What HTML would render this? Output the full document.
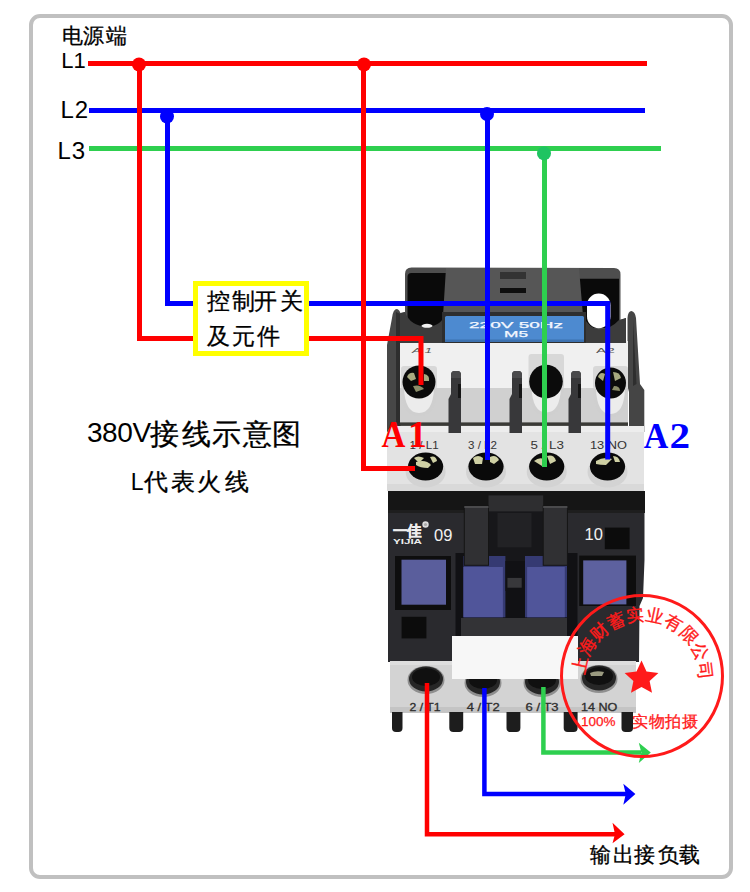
<!DOCTYPE html>
<html><head><meta charset="utf-8">
<style>
html,body{margin:0;padding:0;background:#fff;width:750px;height:892px;overflow:hidden}
svg{display:block}
text{font-family:"Liberation Sans",sans-serif}
</style></head>
<body>
<svg width="750" height="892" viewBox="0 0 750 892">
<rect x="0" y="0" width="750" height="892" fill="#fff"/>
<rect x="31" y="16" width="700" height="861" rx="9" ry="9" fill="none" stroke="#c0c0c0" stroke-width="4"/>
<path d="M392 318 Q393 309 397 309 Q400 310 400.5 314 L400.5 432 L387 432 L387 345 Z" fill="#474747"/>
<path d="M627.5 318 Q628 311 631.5 311 Q635 311.5 636 318 L640 384 L644.3 390 L644.3 432 L629 432 L629 392 L627.5 386 Z" fill="#454545"/>
<path d="M633 320 L636.5 384 L633 386Z" fill="#2e2e2e"/>
<path d="M396 312 L400.5 314 L400.5 432 L396 432Z" fill="#2e2e2e"/>
<rect x="400" y="341" width="228" height="48" fill="#f0f0f0"/>
<rect x="400" y="388" width="228" height="35" fill="#d0d0d0"/>
<rect x="400" y="422.4" width="228" height="3.5" fill="#3a3a36"/>
<path d="M405 274 Q405 267.5 411.5 267.5 L614 268 Q620.5 268 620.5 274.5 L620.5 320 L626 318 L626 343 L400 343 L400 313 L405 312 Z" fill="#4e4e4e"/>
<path d="M407.5 277 Q407.5 273 411.5 273 L448 273 L447 328 L407.5 328 Z" fill="#0a0a0a"/>
<path d="M577 278.7 L619 278.7 L619 328 L584 328 Z" fill="#0a0a0a"/>
<rect x="587" y="293.6" width="23.5" height="34.7" rx="11.7" fill="#ffffff"/>
<path d="M446 268 L579 268 L583 316 L443 316 Z" fill="#565656"/>
<rect x="500" y="272" width="26" height="7" fill="#333"/>
<rect x="500" y="288" width="26" height="5" fill="#0e0e0e"/>
<path d="M400 313.5 L405 312 Q410 326 427 326.5 Q443 326 445 312 L447 312 L447 343 L400 343 Z" fill="#3c3c3c"/>
<ellipse cx="427" cy="325.8" rx="5.5" ry="2" fill="#f2f2f2"/>
<path d="M583 316 Q590 329 599 329.5 Q611 329 619 320 L626 318 L626 343 L583 343 Z" fill="#3c3c3c"/>
<rect x="442" y="312" width="144" height="31" fill="#2e2e2e"/>
<rect x="445" y="316" width="139" height="26" rx="1.5" fill="#4d8ad0"/>
<rect x="445" y="339.5" width="139" height="2.5" fill="#3d72b0"/>
<text x="469" y="328" font-size="9.6" fill="#f4f8ff" textLength="94" lengthAdjust="spacingAndGlyphs" stroke="#f4f8ff" stroke-width="0.25">220V 50Hz</text>
<text x="504" y="337.3" font-size="9.6" fill="#f4f8ff" textLength="24" lengthAdjust="spacingAndGlyphs" stroke="#f4f8ff" stroke-width="0.25">M5</text>
<text x="412" y="353" font-size="8" fill="#555" textLength="20" lengthAdjust="spacingAndGlyphs" font-style="italic">A 1</text>
<text x="596" y="353" font-size="8" fill="#555" textLength="19" lengthAdjust="spacingAndGlyphs">A2</text>
<rect x="401" y="366" width="36" height="23" rx="3" fill="#d8d8d8"/>
<path d="M401 389 L401 386 Q401 416 419.0 416 Q437 416 437 386 L437 389Z" fill="#cfcfcf"/>
<path d="M404 388 Q405 413 419.0 413 Q433 413 434 388Z" fill="#ececec"/>
<circle cx="419" cy="382" r="16.5" fill="#0b0b0b"/>
<rect x="593" y="366" width="35" height="23" rx="3" fill="#d8d8d8"/>
<path d="M593 389 L593 387 Q593 417 610.5 417 Q628 417 628 387 L628 389Z" fill="#cfcfcf"/>
<path d="M596 389 Q597 414 610.5 414 Q624 414 625 389Z" fill="#ececec"/>
<circle cx="610.5" cy="383" r="15.5" fill="#0b0b0b"/>
<rect x="528.5" y="354" width="35.5" height="35" rx="3" fill="#d8d8d8"/>
<path d="M528.5 389 L528.5 385.6 Q528.5 415.6 546.25 415.6 Q564.0 415.6 564.0 385.6 L564.0 389Z" fill="#cfcfcf"/>
<path d="M531.5 387.6 Q532.5 412.6 546.25 412.6 Q560.0 412.6 561.0 387.6Z" fill="#ececec"/>
<circle cx="546" cy="381.6" r="16.8" fill="#0b0b0b"/>
<path d="M407 377 Q409 372 414 373 L416 379 L411 381Z" fill="#a8aa80"/>
<path d="M424 374 Q430 375 429 381 L424 381Z" fill="#a8aa80"/>
<path d="M413 386 Q420 384 424 389 L416 392Z" fill="#8c8e6a"/>
<path d="M598 377 Q600 371 605 374 L603 381Z" fill="#a8aa80"/>
<path d="M613 372 Q620 372 621 378 L615 381Z" fill="#a8aa80"/>
<path d="M614 386 Q620 386 620 391 L612 390Z" fill="#8c8e6a"/>
<path d="M387 436 Q387 426 396 426 L644 426 L644 491 L387 491Z" fill="#e3e3e3"/>
<rect x="398" y="426" width="246" height="6" fill="#ededed"/>
<rect x="387" y="484" width="257" height="7" fill="#d9d9d9"/>
<path d="M451.0 375 Q451.0 371 454.5 371 L457.5 371 Q461.0 371 461.0 375 L461.0 433 L448.5 433 L448.5 399 L451.0 394Z" fill="#38383a"/>
<path d="M451.0 375 Q451.0 371 454.5 371 L457.5 371 Q461.0 371 461.0 375 L461.0 378 L451.0 378Z" fill="#4a4a4c"/>
<rect x="458.0" y="384" width="3" height="14" fill="#151515"/>
<path d="M512.0 375 Q512.0 371 515.5 371 L518.5 371 Q522.0 371 522.0 375 L522.0 433 L509.5 433 L509.5 399 L512.0 394Z" fill="#38383a"/>
<path d="M512.0 375 Q512.0 371 515.5 371 L518.5 371 Q522.0 371 522.0 375 L522.0 378 L512.0 378Z" fill="#4a4a4c"/>
<rect x="519.0" y="384" width="3" height="14" fill="#151515"/>
<path d="M571.0 375 Q571.0 371 574.5 371 L577.5 371 Q581.0 371 581.0 375 L581.0 433 L568.5 433 L568.5 399 L571.0 394Z" fill="#38383a"/>
<path d="M571.0 375 Q571.0 371 574.5 371 L577.5 371 Q581.0 371 581.0 375 L581.0 378 L571.0 378Z" fill="#4a4a4c"/>
<rect x="578.0" y="384" width="3" height="14" fill="#151515"/>
<text x="409.6" y="448.8" font-size="11.8" fill="#333" textLength="29" lengthAdjust="spacingAndGlyphs">1 / L1</text>
<text x="468" y="448.8" font-size="11.8" fill="#333" textLength="29" lengthAdjust="spacingAndGlyphs">3 / L2</text>
<text x="530.5" y="448.8" font-size="11.8" fill="#333" textLength="33.5" lengthAdjust="spacingAndGlyphs">5 / L3</text>
<text x="590" y="448.8" font-size="11.8" fill="#333" textLength="37" lengthAdjust="spacingAndGlyphs">13 NO</text>
<ellipse cx="425.6" cy="472" rx="20" ry="15.5" fill="#d3d3d3"/>
<ellipse cx="425.6" cy="466.6" rx="17.6" ry="14" fill="#0a0a0a"/>
<ellipse cx="486" cy="472" rx="20" ry="15.5" fill="#d3d3d3"/>
<ellipse cx="486" cy="466.6" rx="17.6" ry="14" fill="#0a0a0a"/>
<ellipse cx="546.7" cy="472" rx="20" ry="15.5" fill="#d3d3d3"/>
<ellipse cx="546.7" cy="466.6" rx="17.6" ry="14" fill="#0a0a0a"/>
<ellipse cx="607.5" cy="472" rx="20" ry="15.5" fill="#d3d3d3"/>
<ellipse cx="607.5" cy="466.6" rx="17.6" ry="14" fill="#0a0a0a"/>
<path d="M414 458 Q418 455 424 458 L419 463Z" fill="#cfd0a4"/>
<path d="M416 462 Q426 459 431 465 L428 468 Q420 468 416 465Z" fill="#cfd0a4"/>
<path d="M430 457 Q436 455 437 461 L433 463Z" fill="#cfd0a4"/>
<path d="M473 458 Q478 454 483 458 L482 464 L475 464Z" fill="#cfd0a4"/>
<path d="M490 457 Q496 454 499 460 L494 464 L490 462Z" fill="#cfd0a4"/>
<path d="M534 461 Q540 456 546 460 L542 466Z" fill="#cfd0a4"/>
<path d="M547 456 Q554 454 556 461 L550 464Z" fill="#cfd0a4"/>
<path d="M596 461 Q604 456 612 459 L606 465 Q600 465 596 464Z" fill="#cfd0a4"/>
<path d="M613 456 Q619 456 620 462 L615 462Z" fill="#cfd0a4"/>
<path d="M388 491H644.5V560L643 598L639.5 606L639 662H388Z" fill="#2a2a2e"/>
<rect x="388" y="491" width="257" height="22" fill="#151515"/>
<rect x="388" y="510" width="257" height="3" fill="#1e1e1e"/>
<text x="392.5" y="536" font-size="15" fill="#eeeeee" stroke="#eeeeee" stroke-width="0.4" font-weight="bold" textLength="29" lengthAdjust="spacingAndGlyphs">一佳</text>
<text x="393" y="543.5" font-size="7" fill="#eeeeee" font-weight="bold" textLength="29" lengthAdjust="spacingAndGlyphs">YIJIA</text>
<circle cx="425.5" cy="524.5" r="3.2" fill="#dddddd"/><circle cx="425.5" cy="524.5" r="1.6" fill="#aaaaaa"/>
<text x="434" y="541" font-size="16.5" fill="#f2f2f2">09</text>
<text x="584.6" y="539.6" font-size="16.5" fill="#f2f2f2">10</text>
<rect x="604.8" y="527.6" width="24.8" height="21.6" fill="#0c0c0c"/>
<rect x="395" y="556" width="56" height="54" fill="#0e0e0e"/>
<rect x="401.5" y="559.7" width="44.5" height="45" fill="#5a5e9c"/>
<rect x="579.2" y="555.6" width="56.8" height="50.4" fill="#0e0e0e"/>
<rect x="583.2" y="560.4" width="43.2" height="44" fill="#5d619f"/>
<rect x="401.6" y="616.8" width="24.8" height="21.6" fill="#0c0c0c"/>
<rect x="455.5" y="553" width="122" height="84" fill="#111114"/>
<rect x="488.5" y="511" width="54.7" height="50" fill="#17171a"/>
<rect x="488.5" y="495.4" width="54.7" height="16" fill="#2e2e30"/>
<rect x="497.5" y="513" width="34" height="34.4" fill="#222225"/>
<rect x="463.4" y="556" width="42" height="61.3" fill="#353a72"/>
<rect x="463.4" y="567" width="39.5" height="50.3" fill="#50559a"/>
<rect x="525" y="556" width="42" height="61.3" fill="#353a72"/>
<rect x="527.1" y="567" width="37.7" height="50.3" fill="#50559a"/>
<rect x="505.4" y="561" width="19.6" height="30" fill="#111114"/>
<rect x="507.4" y="577.9" width="14.3" height="9.8" fill="#38383b"/>
<rect x="464.3" y="506" width="24.2" height="59.3" fill="#303033" stroke="#151515" stroke-width="1"/>
<rect x="543.2" y="506" width="24.2" height="59.3" fill="#303033" stroke="#151515" stroke-width="1"/>
<rect x="464.3" y="506" width="24.2" height="2" fill="#4a4a4c"/>
<rect x="543.2" y="506" width="24.2" height="2" fill="#4a4a4c"/>
<rect x="461" y="618" width="106" height="19" fill="#333336"/>
<rect x="390" y="661" width="246" height="52" fill="#d3d3d3"/>
<rect x="390" y="661" width="246" height="4" fill="#dedede"/>
<rect x="390" y="707" width="246" height="6" fill="#c4c4c4"/>
<ellipse cx="426" cy="680" rx="18.5" ry="14" fill="#8f8f8f"/>
<ellipse cx="426" cy="679" rx="17" ry="12.5" fill="#262626"/>
<ellipse cx="426" cy="677" rx="14" ry="9" fill="#101010"/>
<ellipse cx="483" cy="683" rx="18.5" ry="14" fill="#8f8f8f"/>
<ellipse cx="483" cy="682" rx="17" ry="12.5" fill="#262626"/>
<ellipse cx="483" cy="680" rx="14" ry="9" fill="#101010"/>
<ellipse cx="542" cy="683" rx="18.5" ry="14" fill="#8f8f8f"/>
<ellipse cx="542" cy="682" rx="17" ry="12.5" fill="#262626"/>
<ellipse cx="542" cy="680" rx="14" ry="9" fill="#101010"/>
<ellipse cx="599" cy="679" rx="18.5" ry="14" fill="#8f8f8f"/>
<ellipse cx="599" cy="678" rx="17" ry="12.5" fill="#262626"/>
<ellipse cx="599" cy="676" rx="14" ry="9" fill="#101010"/>
<path d="M590 673 Q596 670 604 672 L602 676 L591 676Z" fill="#9a9a80"/>
<rect x="452" y="636" width="126" height="43" fill="#f7f7f7"/>
<text x="409.5" y="711" font-size="11" fill="#2e2e2e" stroke="#2e2e2e" stroke-width="0.3" textLength="31" lengthAdjust="spacingAndGlyphs">2 / T1</text>
<text x="466.7" y="711" font-size="11" fill="#2e2e2e" stroke="#2e2e2e" stroke-width="0.3" textLength="33" lengthAdjust="spacingAndGlyphs">4 / T2</text>
<text x="525.6" y="711" font-size="11" fill="#2e2e2e" stroke="#2e2e2e" stroke-width="0.3" textLength="33" lengthAdjust="spacingAndGlyphs">6 / T3</text>
<text x="581" y="711" font-size="11" fill="#2e2e2e" stroke="#2e2e2e" stroke-width="0.3" textLength="36.4" lengthAdjust="spacingAndGlyphs">14 NO</text>
<path d="M392 712 L402.5 712 L402.5 728 Q402.5 732 398.5 732 L396 732 Q392 732 392 728Z" fill="#1d1d1d"/>
<path d="M449.3 712 L463.2 712 L463.2 728 Q463.2 732 459.2 732 L453.3 732 Q449.3 732 449.3 728Z" fill="#1d1d1d"/>
<path d="M506.5 712 L520.4 712 L520.4 728 Q520.4 732 516.4 732 L510.5 732 Q506.5 732 506.5 728Z" fill="#1d1d1d"/>
<path d="M563.7 712 L577.6 712 L577.6 728 Q577.6 732 573.6 732 L567.7 732 Q563.7 732 563.7 728Z" fill="#1d1d1d"/>
<path d="M621.5 712 L633 712 L633 728 Q633 732 629 732 L625.5 732 Q621.5 732 621.5 728Z" fill="#1d1d1d"/>
<g fill="none">
<path d="M88 63.5H647" stroke="#ff0000" stroke-width="5"/>
<path d="M89 110.5H645" stroke="#0000ff" stroke-width="5"/>
<path d="M89 148.5H661" stroke="#2ecf4f" stroke-width="5"/>
<path d="M139.5 64V338.5H195" stroke="#ff0000" stroke-width="5"/>
<path d="M167.5 112V303.5H195" stroke="#0000ff" stroke-width="5"/>
<path d="M307 338.5H421V385" stroke="#ff0000" stroke-width="5"/>
<path d="M307 303.5H607.7V459.5" stroke="#0000ff" stroke-width="5"/>
<path d="M363.5 64V468.5H415" stroke="#ff0000" stroke-width="5"/>
<path d="M487.5 112V460" stroke="#0000ff" stroke-width="5"/>
<path d="M544.5 150V467" stroke="#2ecf4f" stroke-width="5"/>
<path d="M427 683V834.3H615" stroke="#ff0000" stroke-width="4.5"/>
<path d="M484.4 688V794H626" stroke="#0000ff" stroke-width="4.5"/>
<path d="M543.4 687V752.5H641" stroke="#2ecf4f" stroke-width="4.5"/>
</g>
<circle cx="139" cy="64.5" r="7" fill="#ff0000"/>
<circle cx="364" cy="64.5" r="7" fill="#ff0000"/>
<circle cx="167" cy="116.5" r="7" fill="#0000ff"/>
<circle cx="487" cy="114" r="7" fill="#0000ff"/>
<circle cx="544" cy="153.4" r="7" fill="#1fc462"/>
<path d="M612.5 822.8L624.6 834.3L612.5 843.2L615 834.3Z" fill="#ff0000"/>
<path d="M623.3 783.8L635.4 794L623.3 804.7L625.8 794Z" fill="#0000ff"/>
<path d="M638.8 742.8L650.8 752.5L638.8 763L641.3 752.5Z" fill="#2ecf4f"/>
<circle cx="642" cy="676" r="80.5" fill="none" stroke="#ff1a1a" stroke-width="3"/>
<text transform="translate(579.9 664.7) rotate(282.5)" y="6.5" text-anchor="middle" font-size="17.5" font-weight="500" fill="#ff1a1a" stroke="#ff1a1a" stroke-width="0.35">上</text>
<text transform="translate(587.2 646.3) rotate(300.3)" y="6.5" text-anchor="middle" font-size="17.5" font-weight="500" fill="#ff1a1a" stroke="#ff1a1a" stroke-width="0.35">海</text>
<text transform="translate(599.7 630.9) rotate(318.2)" y="6.5" text-anchor="middle" font-size="17.5" font-weight="500" fill="#ff1a1a" stroke="#ff1a1a" stroke-width="0.35">财</text>
<text transform="translate(616.4 620.1) rotate(336.0)" y="6.5" text-anchor="middle" font-size="17.5" font-weight="500" fill="#ff1a1a" stroke="#ff1a1a" stroke-width="0.35">蓄</text>
<text transform="translate(635.5 615.0) rotate(353.8)" y="6.5" text-anchor="middle" font-size="17.5" font-weight="500" fill="#ff1a1a" stroke="#ff1a1a" stroke-width="0.35">实</text>
<text transform="translate(655.3 615.9) rotate(371.7)" y="6.5" text-anchor="middle" font-size="17.5" font-weight="500" fill="#ff1a1a" stroke="#ff1a1a" stroke-width="0.35">业</text>
<text transform="translate(673.9 622.9) rotate(389.5)" y="6.5" text-anchor="middle" font-size="17.5" font-weight="500" fill="#ff1a1a" stroke="#ff1a1a" stroke-width="0.35">有</text>
<text transform="translate(689.5 635.2) rotate(407.3)" y="6.5" text-anchor="middle" font-size="17.5" font-weight="500" fill="#ff1a1a" stroke="#ff1a1a" stroke-width="0.35">限</text>
<text transform="translate(700.5 651.7) rotate(425.2)" y="6.5" text-anchor="middle" font-size="17.5" font-weight="500" fill="#ff1a1a" stroke="#ff1a1a" stroke-width="0.35">公</text>
<text transform="translate(705.9 670.8) rotate(443.0)" y="6.5" text-anchor="middle" font-size="17.5" font-weight="500" fill="#ff1a1a" stroke="#ff1a1a" stroke-width="0.35">司</text>
<path d="M641.5 660.6 L646.5 671.5 L658.4 672.9 L649.6 681.0 L652.0 692.8 L641.5 686.9 L631.0 692.8 L633.4 681.0 L624.6 672.9 L636.5 671.5Z" fill="#ff1a1a"/>
<text x="581" y="726" font-size="13.5" fill="#ff1a1a" stroke="#ff1a1a" stroke-width="0.25">100%</text>
<text x="632" y="727" font-size="16" font-weight="500" fill="#ff1a1a" stroke="#ff1a1a" stroke-width="0.3" letter-spacing="0.6">实物拍摄</text>
<text x="61.53 83.38 105.99" y="42.50" font-size="21" fill="#000" stroke="#000" stroke-width="0.3" >电源端</text>
<text x="61.24 73.54" y="68.40" font-size="22" fill="#000"  >L1</text>
<text x="60.58 74.80" y="118.00" font-size="24" fill="#000"  >L2</text>
<text x="57.48 71.84" y="158.80" font-size="24" fill="#000"  >L3</text>
<rect x="195.5" y="283.5" width="111" height="70" fill="#fff" stroke="#ffff00" stroke-width="5"/>
<text x="207.08 232.08 254.10 279.57" y="309.10" font-size="22.5" fill="#000" stroke="#000" stroke-width="0.3" >控制开关</text>
<text x="207.08 231.88 256.50" y="343.60" font-size="22.5" fill="#000" stroke="#000" stroke-width="0.3" >及元件</text>
<text x="86.88 102.08 117.28 132.52" y="442.20" font-size="28" fill="#000"  >380V</text>
<text x="150.12 182.12 212.34 242.80 271.72" y="443.70" font-size="28.5" fill="#000" stroke="#000" stroke-width="0.3" >接线示意图</text>
<text x="130.86" y="489.90" font-size="23" fill="#000"  >L</text>
<text x="144.30 170.59 197.46 225.26" y="489.80" font-size="23.5" fill="#000" stroke="#000" stroke-width="0.3" >代表火线</text>
<text x="590.19 612.57 634.39 657.59 679.29" y="862.00" font-size="20.5" fill="#000" stroke="#000" stroke-width="0.3" >输出接负载</text>
<g style="font-family:'Liberation Serif';font-weight:bold" font-size="100">
<text transform="translate(381.47 446.6) scale(0.331 0.376)" fill="#ff0000" style="font-family:'Liberation Serif';font-weight:bold">A</text>
<text transform="translate(408.05 446.6) scale(0.378 0.376)" fill="#ff0000" style="font-family:'Liberation Serif';font-weight:bold">1</text>
<text transform="translate(643.76 448.4) scale(0.34 0.368)" fill="#0000ff" style="font-family:'Liberation Serif';font-weight:bold">A</text>
<text transform="translate(669.43 448.4) scale(0.412 0.368)" fill="#0000ff" style="font-family:'Liberation Serif';font-weight:bold">2</text>
</g>
</svg>
</body></html>
